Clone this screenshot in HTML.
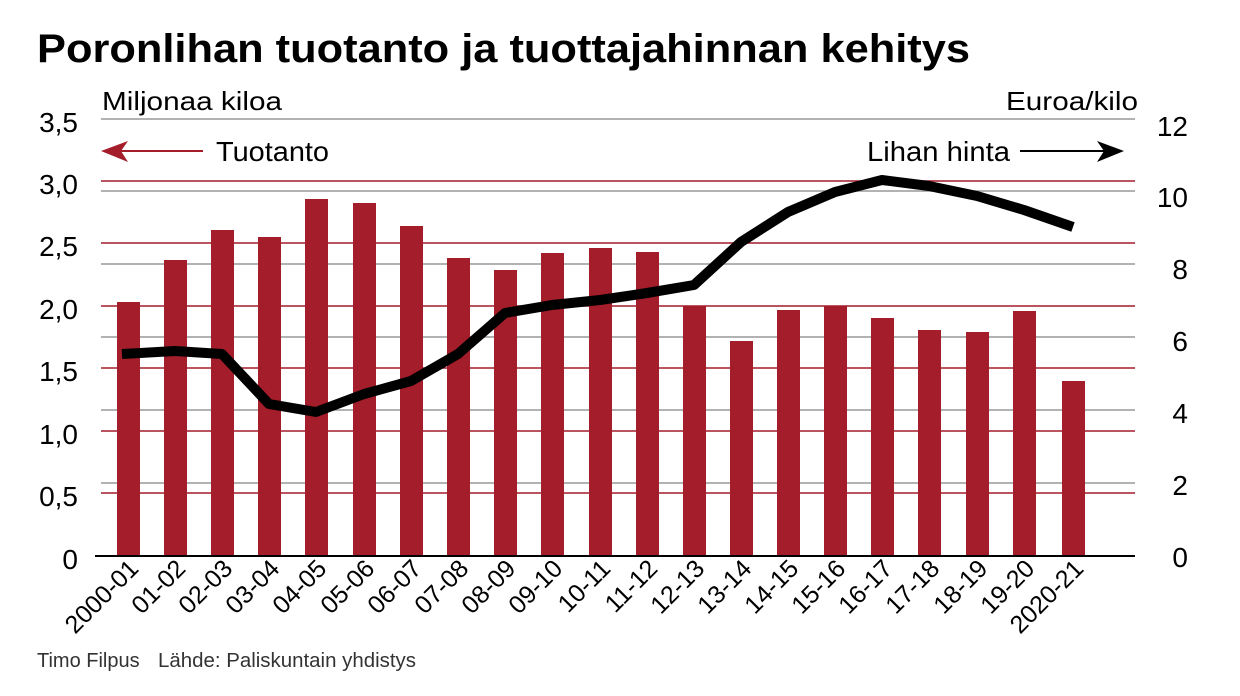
<!DOCTYPE html>
<html><head><meta charset="utf-8"><style>
body{margin:0;background:#fff}
svg{display:block;font-family:"Liberation Sans",sans-serif}
</style></head><body>
<svg width="1240" height="696" viewBox="0 0 1240 696">
<text x="37" y="62" font-size="40" font-weight="bold" fill="#000" textLength="933" lengthAdjust="spacingAndGlyphs">Poronlihan tuotanto ja tuottajahinnan kehitys</text>
<text x="102" y="110" font-size="26" textLength="180" lengthAdjust="spacingAndGlyphs">Miljonaa kiloa</text>
<text x="1138" y="110" font-size="26" text-anchor="end" textLength="132" lengthAdjust="spacingAndGlyphs">Euroa/kilo</text>
<g stroke="#999" stroke-width="1.5">
<line x1="101" y1="119" x2="1135" y2="119"/>
<line x1="101" y1="191" x2="1135" y2="191"/>
<line x1="101" y1="264" x2="1135" y2="264"/>
<line x1="101" y1="337" x2="1135" y2="337"/>
<line x1="101" y1="410" x2="1135" y2="410"/>
<line x1="101" y1="483" x2="1135" y2="483"/>
</g>
<g stroke="#a31d2a" stroke-width="1.5">
<line x1="101" y1="181" x2="1135" y2="181"/>
<line x1="101" y1="243" x2="1135" y2="243"/>
<line x1="101" y1="306" x2="1135" y2="306"/>
<line x1="101" y1="368" x2="1135" y2="368"/>
<line x1="101" y1="431" x2="1135" y2="431"/>
<line x1="101" y1="493" x2="1135" y2="493"/>
</g>
<g font-size="28" text-anchor="end">
<text x="78" y="132">3,5</text><text x="78" y="194">3,0</text><text x="78" y="256">2,5</text>
<text x="78" y="319">2,0</text><text x="78" y="381">1,5</text><text x="78" y="444">1,0</text>
<text x="78" y="506">0,5</text><text x="78" y="569">0</text>
</g>
<g font-size="28" text-anchor="end">
<text x="1188" y="136">12</text><text x="1188" y="207">10</text><text x="1188" y="279">8</text>
<text x="1188" y="351">6</text><text x="1188" y="423">4</text><text x="1188" y="495">2</text><text x="1188" y="567">0</text>
</g>
<line x1="115" y1="151" x2="203" y2="151" stroke="#a31d2a" stroke-width="2"/>
<polygon points="101,151 128,141 121,151 128,162" fill="#a31d2a"/>
<text x="216" y="161" font-size="28" textLength="113" lengthAdjust="spacingAndGlyphs">Tuotanto</text>
<text x="1010" y="161" font-size="28" text-anchor="end" textLength="143" lengthAdjust="spacingAndGlyphs">Lihan hinta</text>
<line x1="1020" y1="151" x2="1110" y2="151" stroke="#000" stroke-width="2"/>
<polygon points="1124,151 1097,141 1104,151 1097,162" fill="#000"/>
<g fill="#a31d2a">
<rect x="117" y="302" width="23" height="254"/>
<rect x="164" y="260" width="23" height="296"/>
<rect x="211" y="230" width="23" height="326"/>
<rect x="258" y="237" width="23" height="319"/>
<rect x="305" y="199" width="23" height="357"/>
<rect x="353" y="203" width="23" height="353"/>
<rect x="400" y="226" width="23" height="330"/>
<rect x="447" y="258" width="23" height="298"/>
<rect x="494" y="270" width="23" height="286"/>
<rect x="541" y="253" width="23" height="303"/>
<rect x="589" y="248" width="23" height="308"/>
<rect x="636" y="252" width="23" height="304"/>
<rect x="683" y="306" width="23" height="250"/>
<rect x="730" y="341" width="23" height="215"/>
<rect x="777" y="310" width="23" height="246"/>
<rect x="824" y="306" width="23" height="250"/>
<rect x="871" y="318" width="23" height="238"/>
<rect x="918" y="330" width="23" height="226"/>
<rect x="966" y="332" width="23" height="224"/>
<rect x="1013" y="311" width="23" height="245"/>
<rect x="1062" y="381" width="23" height="175"/>
</g>
<line x1="95" y1="556" x2="1135" y2="556" stroke="#000" stroke-width="2"/>
<polyline fill="none" stroke="#000" stroke-width="10" stroke-linejoin="round" points="122,354 175,351 222,354 269,404 316,412 364,394 411,381 458,354 505,313 552,305 600,300 647,293 694,285 741,242 788,212 835,192 882,180 929,186 977,196 1024,210 1073,227"/>
<g font-size="25" text-anchor="end">
<text transform="translate(140,570) rotate(-45)">2000-01</text>
<text transform="translate(187,570) rotate(-45)">01-02</text>
<text transform="translate(234,570) rotate(-45)">02-03</text>
<text transform="translate(281,570) rotate(-45)">03-04</text>
<text transform="translate(328,570) rotate(-45)">04-05</text>
<text transform="translate(376,570) rotate(-45)">05-06</text>
<text transform="translate(423,570) rotate(-45)">06-07</text>
<text transform="translate(470,570) rotate(-45)">07-08</text>
<text transform="translate(517,570) rotate(-45)">08-09</text>
<text transform="translate(564,570) rotate(-45)">09-10</text>
<text transform="translate(612,570) rotate(-45)">10-11</text>
<text transform="translate(659,570) rotate(-45)">11-12</text>
<text transform="translate(706,570) rotate(-45)">12-13</text>
<text transform="translate(753,570) rotate(-45)">13-14</text>
<text transform="translate(800,570) rotate(-45)">14-15</text>
<text transform="translate(847,570) rotate(-45)">15-16</text>
<text transform="translate(894,570) rotate(-45)">16-17</text>
<text transform="translate(941,570) rotate(-45)">17-18</text>
<text transform="translate(989,570) rotate(-45)">18-19</text>
<text transform="translate(1036,570) rotate(-45)">19-20</text>
<text transform="translate(1085,570) rotate(-45)">2020-21</text>
</g>
<text x="37" y="667" font-size="20" fill="#333">Timo Filpus</text>
<text x="158" y="667" font-size="20" fill="#333" textLength="258" lengthAdjust="spacingAndGlyphs">Lähde: Paliskuntain yhdistys</text>
</svg>
</body></html>
